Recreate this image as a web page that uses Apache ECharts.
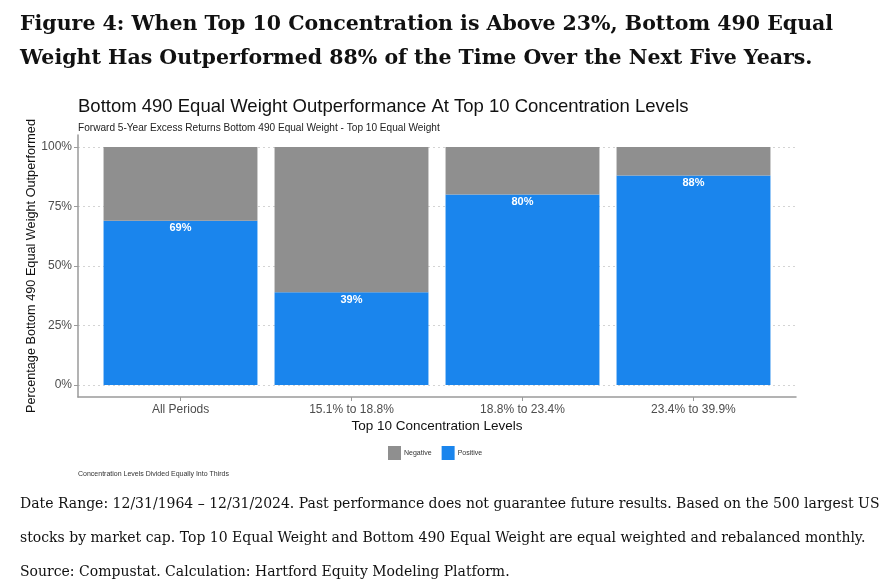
<!DOCTYPE html>
<html><head><meta charset="utf-8">
<script src="https://cdn.jsdelivr.net/npm/echarts@6/dist/echarts.min.js"></script>
<style>html,body{margin:0;padding:0;background:#fff}#c{width:888px;height:587px}</style>
</head><body><div id="c"></div>
<script>
const categories = ['All Periods', '15.1% to 18.8%', '18.8% to 23.4%', '23.4% to 39.9%'];
const positive = [69, 39, 80, 88];
const negative = [31, 61, 20, 12];
const yTicks = [0, 25, 50, 75, 100];
const yTickLabels = ['0%', '25%', '50%', '75%', '100%'];
const xPositions = [1, 2, 3, 4];

const chart = echarts.init(document.getElementById('c'));
const serif = 'DejaVu Serif';
const sans = 'Liberation Sans';
const axisCol = '#9a9a9a';
chart.setOption({
  backgroundColor: '#fff',
  animation: false,
  title: [
    {text: 'Figure 4: When Top 10 Concentration is Above 23%, Bottom 490 Equal', left: 15, top: 9,
     textStyle: {fontFamily: serif, fontWeight: 'bold', fontSize: 20.5, color: '#111'}},
    {text: 'Weight Has Outperformed 88% of the Time Over the Next Five Years.', left: 15, top: 43,
     textStyle: {fontFamily: serif, fontWeight: 'bold', fontSize: 20.5, color: '#111'}},
    {text: 'Bottom 490 Equal Weight Outperformance At Top 10 Concentration Levels', left: 73, top: 92,
     textStyle: {fontFamily: sans, fontWeight: 'normal', fontSize: 18.5, color: '#111'}},
    {text: 'Forward 5-Year Excess Returns Bottom 490 Equal Weight - Top 10 Equal Weight', left: 73, top: 118,
     textStyle: {fontFamily: sans, fontWeight: 'normal', fontSize: 10.1, color: '#222'}},
    {text: 'Concentration Levels Divided Equally Into Thirds', left: 73, top: 466,
     textStyle: {fontFamily: sans, fontWeight: 'normal', fontSize: 7, color: '#333'}},
    {text: 'Date Range: 12/31/1964 – 12/31/2024. Past performance does not guarantee future results. Based on the 500 largest US', left: 15, top: 492,
     textStyle: {fontFamily: serif, fontWeight: 'normal', fontSize: 14, color: '#111'}},
    {text: 'stocks by market cap. Top 10 Equal Weight and Bottom 490 Equal Weight are equal weighted and rebalanced monthly.', left: 15, top: 526,
     textStyle: {fontFamily: serif, fontWeight: 'normal', fontSize: 14, color: '#111'}},
    {text: 'Source: Compustat. Calculation: Hartford Equity Modeling Platform.', left: 15, top: 560,
     textStyle: {fontFamily: serif, fontWeight: 'normal', fontSize: 14, color: '#111'}}
  ],
  legend: {
    data: ['Negative', 'Positive'], left: 383, top: 441, icon: 'rect',
    itemWidth: 13, itemHeight: 14, itemGap: 10,
    textStyle: {fontFamily: sans, fontSize: 7, color: '#333', padding: [0, 0, 0, -2]}
  },
  grid: [
    {left: 78, right: 92, top: 135, bottom: 190},
    {left: 95, right: 109, top: 135, bottom: 190}
  ],
  xAxis: [
    {
      gridIndex: 0, type: 'value', min: 0.4, max: 4.6,
      name: 'Top 10 Concentration Levels', nameLocation: 'middle', nameGap: 22,
      nameTextStyle: {fontFamily: sans, fontSize: 13.5, color: '#111'},
      axisLine: {show: true, onZero: false, lineStyle: {color: axisCol, width: 1.5}},
      axisTick: {show: true, customValues: xPositions, length: 4, lineStyle: {color: axisCol}},
      axisLabel: {customValues: xPositions, formatter: v => categories[Math.round(v) - 1] || '',
        fontFamily: sans, fontSize: 12, color: '#4d4d4d', margin: 7},
      splitLine: {show: false}
    },
    {
      gridIndex: 1, type: 'category', data: categories, show: false
    }
  ],
  yAxis: [
    {
      gridIndex: 0, type: 'value', min: -5, max: 105,
      name: 'Percentage Bottom 490 Equal Weight Outperformed', nameLocation: 'middle', nameGap: 40,
      nameMoveOverlap: false,
      nameTextStyle: {fontFamily: sans, fontSize: 12.7, color: '#111'},
      axisLine: {show: true, onZero: false, lineStyle: {color: axisCol, width: 1.5}},
      axisTick: {show: true, customValues: yTicks, length: 4, lineStyle: {color: axisCol}},
      axisLabel: {customValues: yTicks, formatter: v => yTickLabels[yTicks.indexOf(Math.round(v))] || '',
        fontFamily: sans, fontSize: 12, color: '#4d4d4d', margin: 6},
      splitLine: {show: true, lineStyle: {color: '#d4d4d4', type: [2, 3], width: 1}}
    },
    {
      gridIndex: 1, type: 'value', min: -5, max: 105, show: false, splitLine: {show: false}
    }
  ],
  series: [
    {name: 'Positive', type: 'bar', stack: 'a', barWidth: '90%', xAxisIndex: 1, yAxisIndex: 1,
     itemStyle: {color: '#1a85ed'},
     data: positive,
     label: {show: true, position: 'insideTop', distance: 2, formatter: '{c}%',
       color: '#fff', fontWeight: 'bold', fontSize: 11, fontFamily: sans}},
    {name: 'Negative', type: 'bar', stack: 'a', barWidth: '90%', xAxisIndex: 1, yAxisIndex: 1,
     itemStyle: {color: '#8f8f8f'},
     data: negative}
  ]
});
</script></body></html>
